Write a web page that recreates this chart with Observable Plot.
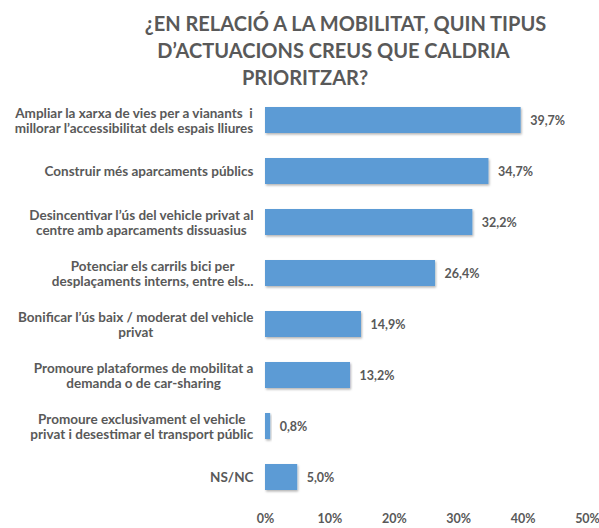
<!DOCTYPE html>
<html><head><meta charset="utf-8">
<script src="https://cdn.jsdelivr.net/npm/d3@7"></script>
<script src="https://cdn.jsdelivr.net/npm/@observablehq/plot@0.6"></script>
<style>
body{margin:0;background:#fff;}
#title{height:90px;position:relative;font-family:Lato,sans-serif;font-weight:bold;color:#595959;font-size:20px;}
#title div{position:absolute;left:0;width:599px;text-align:center;white-space:nowrap;line-height:24px;}
#chart svg{display:block;}
</style></head><body>
<div id="title"></div>
<div id="chart"></div>
<script>
const titleLines = ["¿EN RELACIÓ A LA MOBILITAT, QUIN TIPUS", "D’ACTUACIONS CREUS QUE CALDRIA", "PRIORITZAR?"];
const categories = [
  "Ampliar la xarxa de vies per a vianants  i\nmillorar l’accessibilitat dels espais lliures",
  "Construir més aparcaments públics",
  "Desincentivar l’ús del vehicle privat al\ncentre amb aparcaments dissuasius",
  "Potenciar els carrils bici per\ndesplaçaments interns, entre els...",
  "Bonificar l’ús baix / moderat del vehicle\nprivat",
  "Promoure plataformes de mobilitat a\ndemanda o de car-sharing",
  "Promoure exclusivament el vehicle\nprivat i desestimar el transport públic",
  "NS/NC"
];
const values = [39.7, 34.7, 32.2, 26.4, 14.9, 13.2, 0.8, 5.0];
const xTicks = [0, 10, 20, 30, 40, 50];

const titleCenters = [345.5, 333.5, 305];
const titleTops = [11, 38, 65];
const tdiv = document.getElementById("title");
titleLines.forEach((t, i) => {
  const d = document.createElement("div");
  d.textContent = t;
  d.style.top = titleTops[i] + "px";
  d.style.left = (titleCenters[i] - 299.5) + "px";
  tdiv.appendChild(d);
});

const data = categories.map((c, i) => ({cat: c, value: values[i]}));
const grey = "#595959";

const chart = Plot.plot({
  width: 599,
  height: 438,
  marginLeft: 265,
  marginRight: 12,
  marginTop: 3,
  marginBottom: 24,
  style: {fontFamily: "Lato, sans-serif", background: "#fff"},
  x: {domain: [0, 50], ticks: xTicks, tickFormat: d => d + "%"},
  y: {domain: categories, paddingInner: 0.5, paddingOuter: 0.25},
  marks: [
    Plot.gridX(xTicks, {stroke: "#d9d9d9", strokeOpacity: 1, y1: 0, y2: 413}),
    Plot.barX(data, {x: "value", y: "cat", fill: "#5b9bd5"}),
    Plot.text(data, {x: "value", y: "cat", text: d => d.value.toFixed(1).replace(".", ",") + "%", dx: 9, textAnchor: "start", fill: grey, fontWeight: "bold", fontSize: 12.5}),
    Plot.axisX({ticks: xTicks, tickFormat: d => d + "%", tickSize: 0, tickPadding: 10, fill: grey, fontWeight: "bold", fontSize: 12.5, label: null}),
    Plot.axisY({tickSize: 0, tickPadding: 0, textAnchor: "middle", fill: grey, fontWeight: "bold", fontSize: 13.5, lineHeight: 1.1, label: null})
  ]
});
document.getElementById("chart").appendChild(chart);

// drop shadow for bars
const ns = "http://www.w3.org/2000/svg";
const defs = document.createElementNS(ns, "defs");
defs.innerHTML = '<filter id="sh" x="-10%" y="-30%" width="130%" height="170%"><feDropShadow dx="1" dy="1.5" stdDeviation="1.2" flood-color="#000" flood-opacity="0.3"/></filter>';
chart.insertBefore(defs, chart.firstChild);
chart.querySelectorAll('g[aria-label="bar"] rect').forEach(r => r.setAttribute("filter", "url(#sh)"));

// center multi-line y labels, right edge at x=253
const rightEdge = 253;
chart.querySelectorAll('g[aria-label="y-axis tick label"] text').forEach(t => {
  const bb = t.getBBox();
  const tr = t.getAttribute("transform") || "";
  const m = tr.match(/translate\(([-\d.]+),\s*([-\d.]+)\)/);
  const y = m ? +m[2] : 0;
  t.setAttribute("transform", `translate(${rightEdge - bb.width / 2},${y})`);
});
</script>
</body></html>
